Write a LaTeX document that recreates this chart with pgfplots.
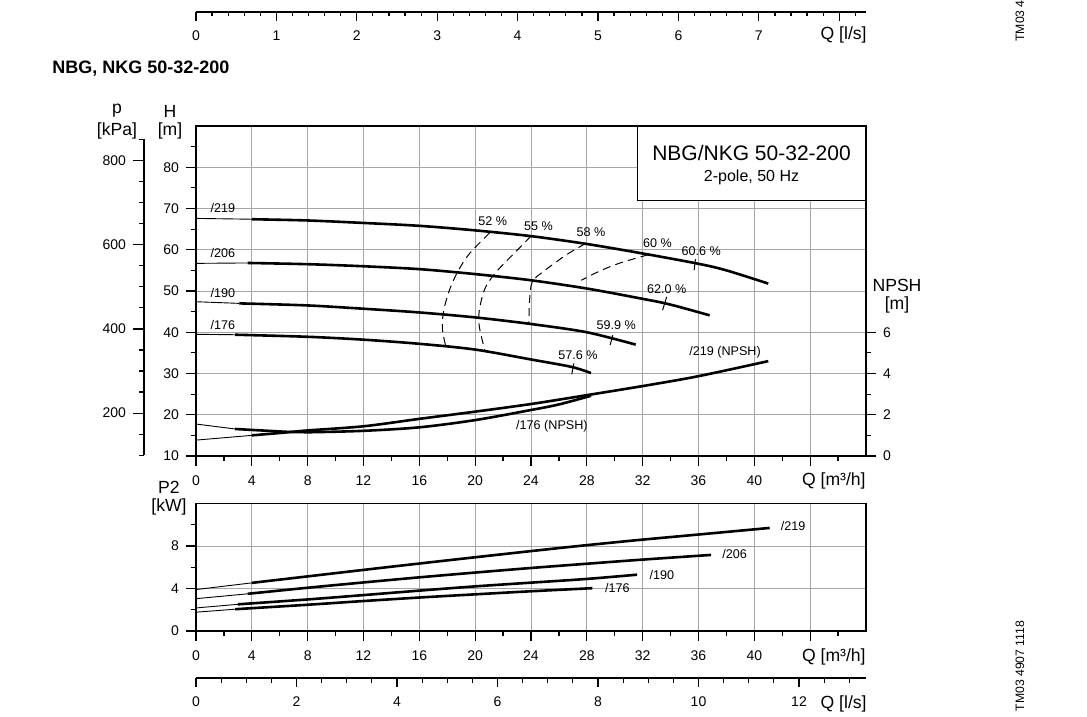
\documentclass[border=0pt]{standalone}
\usepackage{fontspec}
\setmainfont{Liberation Sans}
\usepackage{pgfplots}
\pgfplotsset{compat=1.18}
\newcommand\lf{\fontsize{6.3}{7}\selectfont}
\newcommand\af{\fontsize{8.8}{10}\selectfont}
\pgfplotsset{
  base/.style={
    scale only axis, anchor=south west, clip=false,
    /pgf/number format/assume math mode=true,
    tick align=outside,
    tick style={black, line width=0.6pt},
    major tick length=5pt, minor tick length=2.7pt,
    axis line style={black, line width=0.75pt, -},
    ticklabel style={font=\fontsize{7}{8}\selectfont},
  },
  thk/.style={black, line width=1.3pt, smooth},
  thn/.style={black, line width=0.45pt},
  eff/.style={black, line width=0.5pt, dash pattern=on 4pt off 2.6pt, smooth},
  lsaxis/.style={base, width=335pt, height=1pt, ymin=0, ymax=1,
    axis x line=bottom, axis y line=none, xtick pos=left,
    x axis line style={-}, every outer x axis line/.append style={-},
    xtick align=outside,
    xticklabel style={yshift=-1.5pt},
    major tick length=4.5pt},
}
\begin{document}
\begin{tikzpicture}
\useasboundingbox (0,0) rectangle (543.5pt,358.5pt);
% ---------------- main H axis
\begin{axis}[base, at={(98pt,130.5pt)}, width=335pt, height=165pt,
  xmin=0, xmax=48, ymin=10, ymax=90,
  xtick={0,4,...,44}, xticklabels={0,4,8,12,16,20,24,28,32,36,40,{}},
  minor xtick={2,6,...,46},
  ytick={10,20,...,80}, minor ytick={15,25,...,85},
  xtick pos=left, ytick pos=left,
  xticklabel style={yshift=-1.5pt},
  grid=major, major grid style={gray!70, line width=0.45pt},
]
\draw[line width=0.75pt, fill=white] (axis cs:31.63,72) rectangle (axis cs:48,90);
\node[font=\fontsize{10.5}{12}\selectfont] at (axis cs:39.8,83.4) {NBG/NKG 50-32-200};
\node[font=\fontsize{8}{9}\selectfont] at (axis cs:39.8,77.6) {2-pole, 50 Hz};
\draw[line width=1.4pt] (axis cs:0,10) -- (axis cs:48,10);
% /219
\addplot[thn] coordinates {(0,67.6) (4,67.4)};
\addplot[thk] coordinates {(4,67.4) (8,67.1) (12,66.5) (16,65.8) (20,64.7) (24,63.3) (28,61.4) (32,59.1) (36,56.6) (38,55.0) (41,51.8)};
% /206
\addplot[thn] coordinates {(0,56.7) (3.7,56.8)};
\addplot[thk] coordinates {(3.7,56.8) (8,56.5) (12,56.0) (16,55.3) (20,54.1) (24,52.6) (28,50.6) (32,48.1) (34,46.7) (36.8,44.1)};
% /190
\addplot[thn] coordinates {(0,47.4) (3.1,47.0)};
\addplot[thk] coordinates {(3.1,47.0) (8,46.5) (12,45.7) (16,44.8) (20,43.6) (24,42.0) (28,40.0) (31.5,37.0)};
% /176
\addplot[thn] coordinates {(0,39.5) (2.8,39.4)};
\addplot[thk] coordinates {(2.8,39.4) (8,38.9) (12,38.2) (16,37.2) (20,35.8) (24,33.4) (26.9,31.6) (28.3,30.1)};
% efficiency iso-lines
\addplot[eff] coordinates {(21.04,64.1) (19.6,59.1) (18.8,55.0) (18.2,50.6) (17.75,45.4) (17.65,40.9) (17.9,36.5)};
\addplot[eff] coordinates {(24.0,63.3) (22.9,59.5) (21.5,54.6) (20.7,50.6) (20.3,45.4) (20.3,41.3) (20.7,35.5)};
\addplot[eff] coordinates {(27.9,61.5) (26.5,58.7) (25.0,55.0) (24.1,52.3) (23.9,47.8) (23.85,42.1)};
\addplot[eff] coordinates {(32.4,58.8) (30.3,56.7) (28.9,54.8) (27.6,52.6)};
% best efficiency marks
\addplot[thn, line width=0.5pt] coordinates {(35.78,57.7) (35.69,55.04)};
\addplot[thn, line width=0.5pt] coordinates {(33.72,48.58) (33.43,45.36)};
\addplot[thn, line width=0.5pt] coordinates {(29.86,39.3) (29.67,36.9)};
\addplot[thn, line width=0.5pt] coordinates {(27.07,32.45) (26.92,29.79)};
% labels
\node[font=\lf] at (axis cs:1.93,70.06) {/219};
\node[font=\lf] at (axis cs:1.93,59.2) {/206};
\node[font=\lf] at (axis cs:1.93,49.5) {/190};
\node[font=\lf] at (axis cs:1.93,41.7) {/176};
\node[font=\lf] at (axis cs:21.25,67.0) {52 \%};
\node[font=\lf] at (axis cs:24.54,65.8) {55 \%};
\node[font=\lf] at (axis cs:28.3,64.3) {58 \%};
\node[font=\lf] at (axis cs:33.06,61.66) {60 \%};
\node[font=\lf] at (axis cs:36.19,59.7) {60.6 \%};
\node[font=\lf] at (axis cs:33.72,50.4) {62.0 \%};
\node[font=\lf] at (axis cs:30.1,41.7) {59.9 \%};
\node[font=\lf] at (axis cs:27.36,34.5) {57.6 \%};
\node[font=\lf] at (axis cs:37.9,35.2) {/219 (NPSH)};
\node[font=\lf] at (axis cs:25.5,17.3) {/176 (NPSH)};
\end{axis}
% ---------------- NPSH axis
\begin{axis}[base, at={(98pt,130.5pt)}, width=335pt, height=165pt,
  xmin=0, xmax=48, ymin=0, ymax=16,
  axis x line=none, axis y line*=right, y axis line style={draw=none},
  ytick align=outside,
  ytick={0,2,4,6}, minor ytick={1,3,5},
]
\addplot[thn] coordinates {(0,0.77) (4,1.0)};
\addplot[thk] coordinates {(4,1.0) (6.6,1.15) (8,1.24) (12,1.44) (16,1.8) (20,2.15) (24,2.52) (28,2.95) (32,3.39) (36,3.87) (41,4.6)};
\addplot[thn] coordinates {(0,1.55) (2.8,1.31)};
\addplot[thk] coordinates {(2.8,1.31) (6.6,1.17) (8,1.15) (12,1.22) (16,1.39) (20,1.74) (24,2.23) (26,2.5) (28.3,2.92)};
\end{axis}
% ---------------- p axis
\begin{axis}[base, at={(72pt,130.9pt)}, width=1pt, height=157.85pt,
  xmin=0, xmax=1, ymin=100, ymax=850,
  axis y line=left, axis x line=none, ytick pos=left,
  y axis line style={-}, every outer y axis line/.append style={-},
  ytick align=outside,
  ytick={200,400,600,800}, minor ytick={100,150,...,850},
  major tick length=5.5pt, minor tick length=2.5pt,
]
\addplot[draw=none] coordinates {(0,100)};
\end{axis}
% ---------------- P2 axis
\begin{axis}[base, at={(98pt,43pt)}, width=335pt, height=63.75pt,
  xmin=0, xmax=48, ymin=0, ymax=12,
  xtick={0,4,...,44}, xticklabels={0,4,8,12,16,20,24,28,32,36,40,{}},
  minor xtick={2,6,...,46},
  ytick={0,4,8}, minor ytick={2,6,10},
  xtick pos=left, ytick pos=left,
  xticklabel style={yshift=-1.5pt},
  grid=major, major grid style={gray!70, line width=0.45pt},
]
\draw[line width=1.4pt] (axis cs:0,0) -- (axis cs:48,0);
\addplot[thn] coordinates {(0,3.9) (4,4.53)};
\addplot[thk] coordinates {(4,4.53) (8,5.14) (12,5.75) (16,6.35) (20,6.94) (24,7.52) (28,8.08) (32,8.6) (36,9.08) (41.1,9.7)};
\addplot[thn] coordinates {(0,3.04) (3.7,3.5)};
\addplot[thk] coordinates {(3.7,3.5) (8,4.07) (12,4.57) (16,5.05) (20,5.5) (24,5.93) (28,6.33) (32,6.72) (36.9,7.16)};
\addplot[thn] coordinates {(0,2.17) (3.0,2.51)};
\addplot[thk] coordinates {(3.0,2.51) (8,2.97) (12,3.38) (16,3.8) (20,4.2) (24,4.55) (28,4.9) (31.6,5.3)};
\addplot[thn] coordinates {(0,1.77) (2.8,2.05)};
\addplot[thk] coordinates {(2.8,2.05) (8,2.47) (12,2.82) (16,3.15) (20,3.45) (24,3.74) (28.4,4.03)};
\node[font=\lf, anchor=west] at (axis cs:41.4,9.88) {/219};
\node[font=\lf, anchor=west] at (axis cs:37.2,7.25) {/206};
\node[font=\lf, anchor=west] at (axis cs:32.0,5.27) {/190};
\node[font=\lf, anchor=west] at (axis cs:28.8,4.05) {/176};
\end{axis}
% ---------------- bottom l/s axis
\begin{axis}[lsaxis, at={(98pt,19.5pt)},
  xmin=0, xmax=13.3333,
  xtick={0,2,...,12}, minor xtick={0.5,1,...,13},
  minor tick length=2.5pt,
]
\addplot[draw=none] coordinates {(0,0)};
\end{axis}
% ---------------- top l/s axis (previous chart)
\begin{axis}[lsaxis, at={(98pt,352.5pt)},
  xmin=0, xmax=8.3333,
  xtick={0,1,...,8}, xticklabels={0,1,2,3,4,5,6,7,{}},
  minor xtick={0.2,0.4,...,8.2},
  minor tick length=2pt,
]
\addplot[draw=none] coordinates {(0,0)};
\end{axis}
% ---------------- texts
\node[font=\af] at (58.5pt,303pt) {p};
\node[font=\af] at (58.5pt,293pt) {[kPa]};
\node[font=\af] at (85pt,303pt) {H};
\node[font=\af] at (85pt,293pt) {[m]};
\node[font=\af] at (448.5pt,216pt) {NPSH};
\node[font=\af] at (448.5pt,206pt) {[m]};
\node[font=\af, anchor=east, inner sep=0pt] at (433pt,118pt) {Q [m³/h]};
\node[font=\af] at (84.5pt,115pt) {P2};
\node[font=\af] at (84.5pt,105pt) {[kW]};
\node[font=\af, anchor=east, inner sep=0pt] at (433pt,30pt) {Q [m³/h]};
\node[font=\af, anchor=east, inner sep=0pt] at (433.5pt,6.5pt) {Q [l/s]};
\node[font=\af, anchor=east, inner sep=0pt] at (433.5pt,341pt) {Q [l/s]};
\node[font=\fontsize{9}{10}\selectfont\bfseries, anchor=west, inner sep=0pt] at (26pt,324pt) {NBG, NKG 50-32-200};
\node[font=\fontsize{6.1}{7}\selectfont, rotate=90] at (510pt,25.5pt) {TM03 4907 1118};
\node[font=\fontsize{6.1}{7}\selectfont, rotate=90, anchor=west, inner sep=0pt] at (510pt,337.5pt) {TM03 4906 1118};
\end{tikzpicture}
\end{document}
